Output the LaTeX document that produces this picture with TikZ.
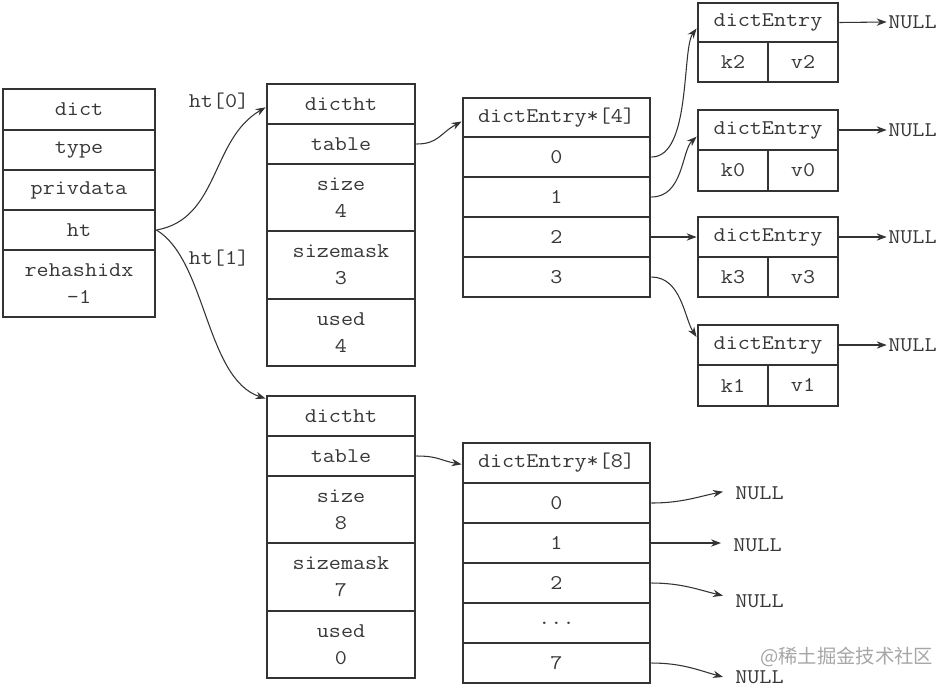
\documentclass[tikz,border=0pt]{standalone}
\usepackage{fontspec}
\newfontfamily\cour[FakeStretch=1.12]{Latin Modern Mono}
\newfontfamily\cjk{Noto Sans CJK SC}
\usetikzlibrary{arrows.meta}
\definecolor{ln}{HTML}{333333}
\definecolor{tx}{HTML}{383838}
\tikzset{
  cell/.style={draw=ln, line width=2.1pt, inner sep=0pt, align=center, text=tx,
    font=\cour\fontsize{15.7}{20}\selectfont},
  conn/.style={draw=ln, line width=0.8pt, -{Stealth[length=7.5pt,width=5.5pt]}},
  lbl/.style={inner sep=0pt, text=tx, font=\cour\fontsize{15.7}{20}\selectfont},
  wmark/.style={inner sep=0pt, text=black!35, font=\cjk\fontsize{14.5}{16}\selectfont},
}
\newcommand\mycell[6]{\node[cell, minimum width={(#4-#2)*0.75pt}, minimum height={(#5-#3)*0.75pt}] (#1) at ({(#2+#4)/2},{(#3+#5)/2}) {#6};}
\begin{document}
\begin{tikzpicture}[x=0.75pt,y=-0.75pt]
\useasboundingbox (0,0) rectangle (941,687);
% dict
\mycell{dc}{3}{89}{155}{130}{dict}
\mycell{ty}{3}{130}{155}{170}{type}
\mycell{pv}{3}{170}{155}{210}{privdata}
\mycell{htc}{3}{210}{155}{250}{ht}
\mycell{rh}{3}{250}{155}{317}{rehashidx\\-1}
% dictht 0
\mycell{t0h}{267}{84}{415}{124}{dictht}
\mycell{t0t}{267}{124}{415}{164}{table}
\mycell{t0s}{267}{164}{415}{231}{size\\4}
\mycell{t0m}{267}{231}{415}{299}{sizemask\\3}
\mycell{t0u}{267}{299}{415}{366}{used\\4}
% dictht 1
\mycell{t1h}{267}{396}{415}{436}{dictht}
\mycell{t1t}{267}{436}{415}{476}{table}
\mycell{t1s}{267}{476}{415}{543}{size\\8}
\mycell{t1m}{267}{543}{415}{611}{sizemask\\7}
\mycell{t1u}{267}{611}{415}{678}{used\\0}
% dictEntry*[4]
\mycell{a4h}{463}{98}{650}{137}{dictEntry*[4]}
\mycell{a40}{463}{137}{650}{177}{0}
\mycell{a41}{463}{177}{650}{217}{1}
\mycell{a42}{463}{217}{650}{257}{2}
\mycell{a43}{463}{257}{650}{297}{3}
% dictEntry*[8]
\mycell{a8h}{463}{443}{650}{483}{dictEntry*[8]}
\mycell{a80}{463}{483}{650}{523}{0}
\mycell{a81}{463}{523}{650}{563}{1}
\mycell{a82}{463}{563}{650}{603}{2}
\mycell{a8d}{463}{603}{650}{643}{...}
\mycell{a87}{463}{643}{650}{683}{7}
% dictEntry boxes
\mycell{eAh}{698}{3}{838}{42}{dictEntry}
\mycell{eAk}{698}{42}{768}{82}{k2}
\mycell{eAv}{768}{42}{838}{82}{v2}
\mycell{eBh}{698}{110}{838}{150}{dictEntry}
\mycell{eBk}{698}{150}{768}{191}{k0}
\mycell{eBv}{768}{150}{838}{191}{v0}
\mycell{eCh}{698}{217}{838}{257}{dictEntry}
\mycell{eCk}{698}{257}{768}{297}{k3}
\mycell{eCv}{768}{257}{838}{297}{v3}
\mycell{eDh}{698}{325}{838}{365}{dictEntry}
\mycell{eDk}{698}{365}{768}{406}{k1}
\mycell{eDv}{768}{365}{838}{406}{v1}
% NULL labels
\node[lbl, anchor=west] (nA) at (888,22) {NULL};
\node[lbl, anchor=west] (nB) at (888,130) {NULL};
\node[lbl, anchor=west] (nC) at (888,237) {NULL};
\node[lbl, anchor=west] (nD) at (888,345) {NULL};
\node[lbl, anchor=west] (m0) at (735,493) {NULL};
\node[lbl, anchor=west] (m1) at (733,545) {NULL};
\node[lbl, anchor=west] (m2) at (735,601) {NULL};
\node[lbl, anchor=west] (m7) at (735,677) {NULL};
% ht labels
\node[lbl] (l0) at (219,101) {ht[0]};
\node[lbl] (l1) at (219,258) {ht[1]};
% connectors
\draw[conn] (htc.east) .. controls +(63,-11) and +(-55,32) .. ([yshift=-2.5pt]t0h.west);
\draw[conn] (htc.east) .. controls +(50,30) and +(-60,-20) .. ([yshift=-3pt]t1h.north west);
\draw[conn] (t0t.east) .. controls +(22,0) and +(-22,12) .. ([yshift=-3pt]a4h.west);
\draw[conn] (t1t.east) .. controls +(22,0) and +(-22,-4) .. ([yshift=-1pt]a8h.west);
\draw[conn] (a40.east) .. controls +(40,0) and +(-15,20) .. ([yshift=-4.5pt]eAh.west);
\draw[conn] (a41.east) .. controls +(32,0) and +(-15,14) .. ([yshift=-5pt]eBh.west);
\draw[conn] (a42.east) -- (eCh.west);
\draw[conn] (a43.east) .. controls +(30,0) and +(-12,-18) .. ([yshift=6pt]eDh.west);
\draw[conn] (eAh.east) -- ([xshift=-1pt]nA.west);
\draw[conn] (eBh.east) -- ([xshift=-1pt]nB.west);
\draw[conn] (eCh.east) -- ([xshift=-1pt]nC.west);
\draw[conn] (eDh.east) -- ([xshift=-1pt]nD.west);
\draw[conn] (a80.east) .. controls +(30,0) and +(-25,5) .. ([xshift=-9pt,yshift=1pt]m0.west);
\draw[conn] (a81.east) -- ([xshift=-9pt,yshift=1.5pt]m1.west);
\draw[conn] (a82.east) .. controls +(30,0) and +(-25,-6) .. ([xshift=-9pt,yshift=4pt]m2.west);
\draw[conn] (a87.east) .. controls +(30,0) and +(-25,-7) .. ([xshift=-9pt]m7.west);
% watermark
\node[wmark, anchor=west] (wm) at (760,657) {@稀土掘金技术社区};
\end{tikzpicture}
\end{document}
